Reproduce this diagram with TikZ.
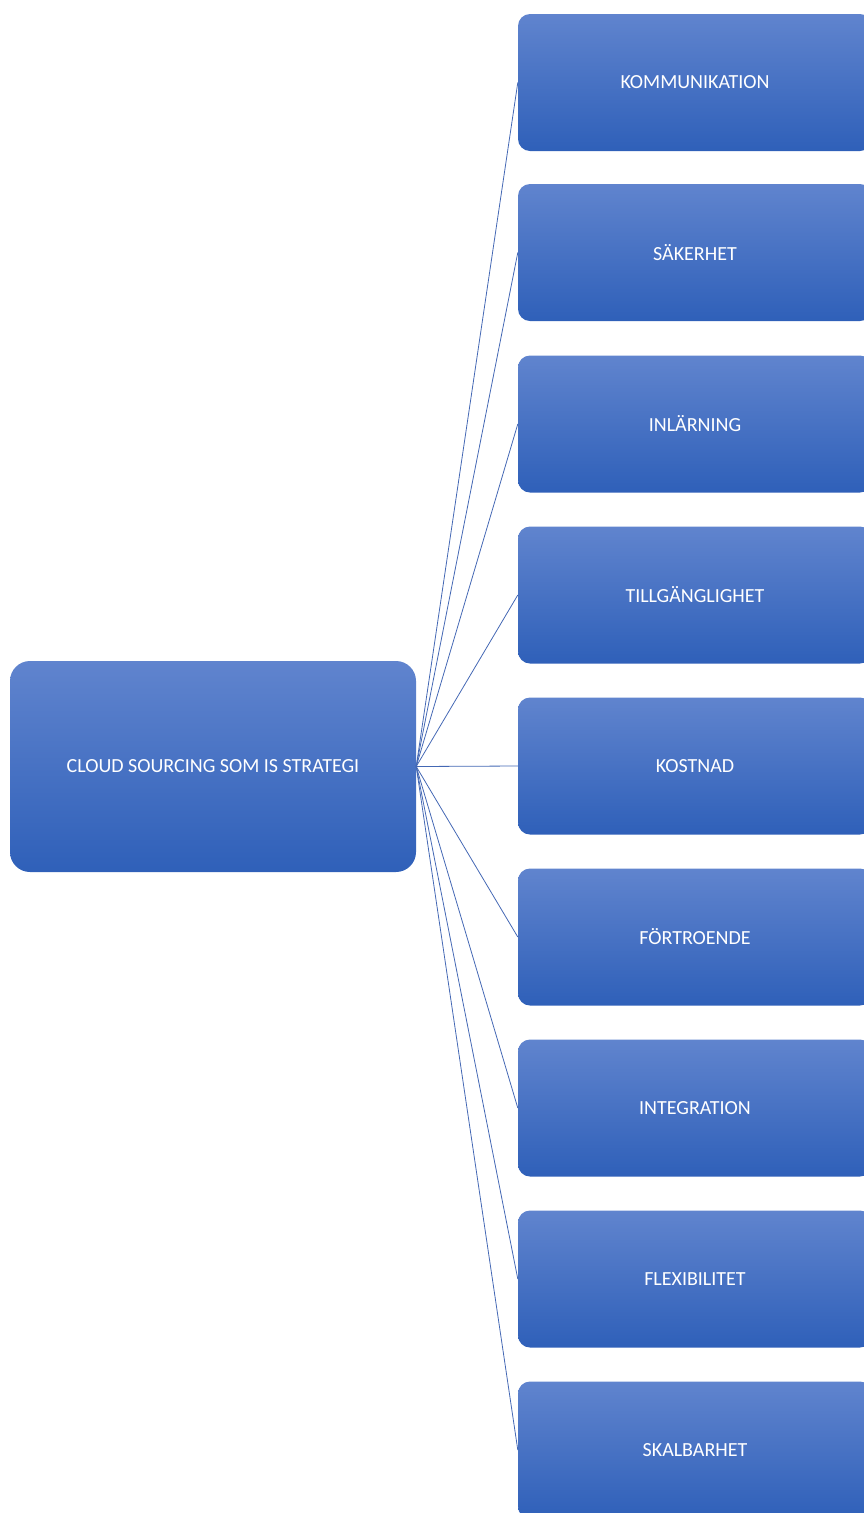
\documentclass[tikz,border=0pt]{standalone}
\usepackage{fontspec}
\setmainfont{Carlito}
\definecolor{boxtop}{RGB}{96,132,206}
\definecolor{boxbot}{RGB}{47,96,185}
\definecolor{linkcol}{RGB}{68,104,180}
\begin{document}
\begin{tikzpicture}[x=1pt,y=-1pt,
  mainbox/.style={rectangle, rounded corners=20pt, top color=boxtop, bottom color=boxbot, draw=none,
    minimum width=406pt, minimum height=211pt, text=white, font=\fontsize{20}{24}\selectfont, inner sep=0pt},
  itembox/.style={rectangle, rounded corners=12pt, top color=boxtop, bottom color=boxbot, draw=none,
    minimum width=354pt, minimum height=137pt, text=white, font=\fontsize{20}{24}\selectfont, inner sep=0pt},
  link/.style={draw=linkcol, line width=0.8pt}]
\useasboundingbox (0,0) rectangle (864,1513);
\clip (0,0) rectangle (864,1513);
\node[mainbox] (main) at (213,766.5) {CLOUD SOURCING SOM IS STRATEGI};
\node[itembox] (k1) at (695,82.5) {KOMMUNIKATION};
\node[itembox] (k2) at (695,252.5) {SÄKERHET};
\node[itembox] (k3) at (695,424) {INLÄRNING};
\node[itembox] (k4) at (695,595) {TILLGÄNGLIGHET};
\node[itembox] (k5) at (695,766) {KOSTNAD};
\node[itembox] (k6) at (695,937) {FÖRTROENDE};
\node[itembox] (k7) at (695,1108) {INTEGRATION};
\node[itembox] (k8) at (695,1279) {FLEXIBILITET};
\node[itembox] (k9) at (695,1450) {SKALBARHET};
\foreach \n in {k1,k2,k3,k4,k5,k6,k7,k8,k9}
  \draw[link] (main.east) -- (\n.west);
\end{tikzpicture}
\end{document}
